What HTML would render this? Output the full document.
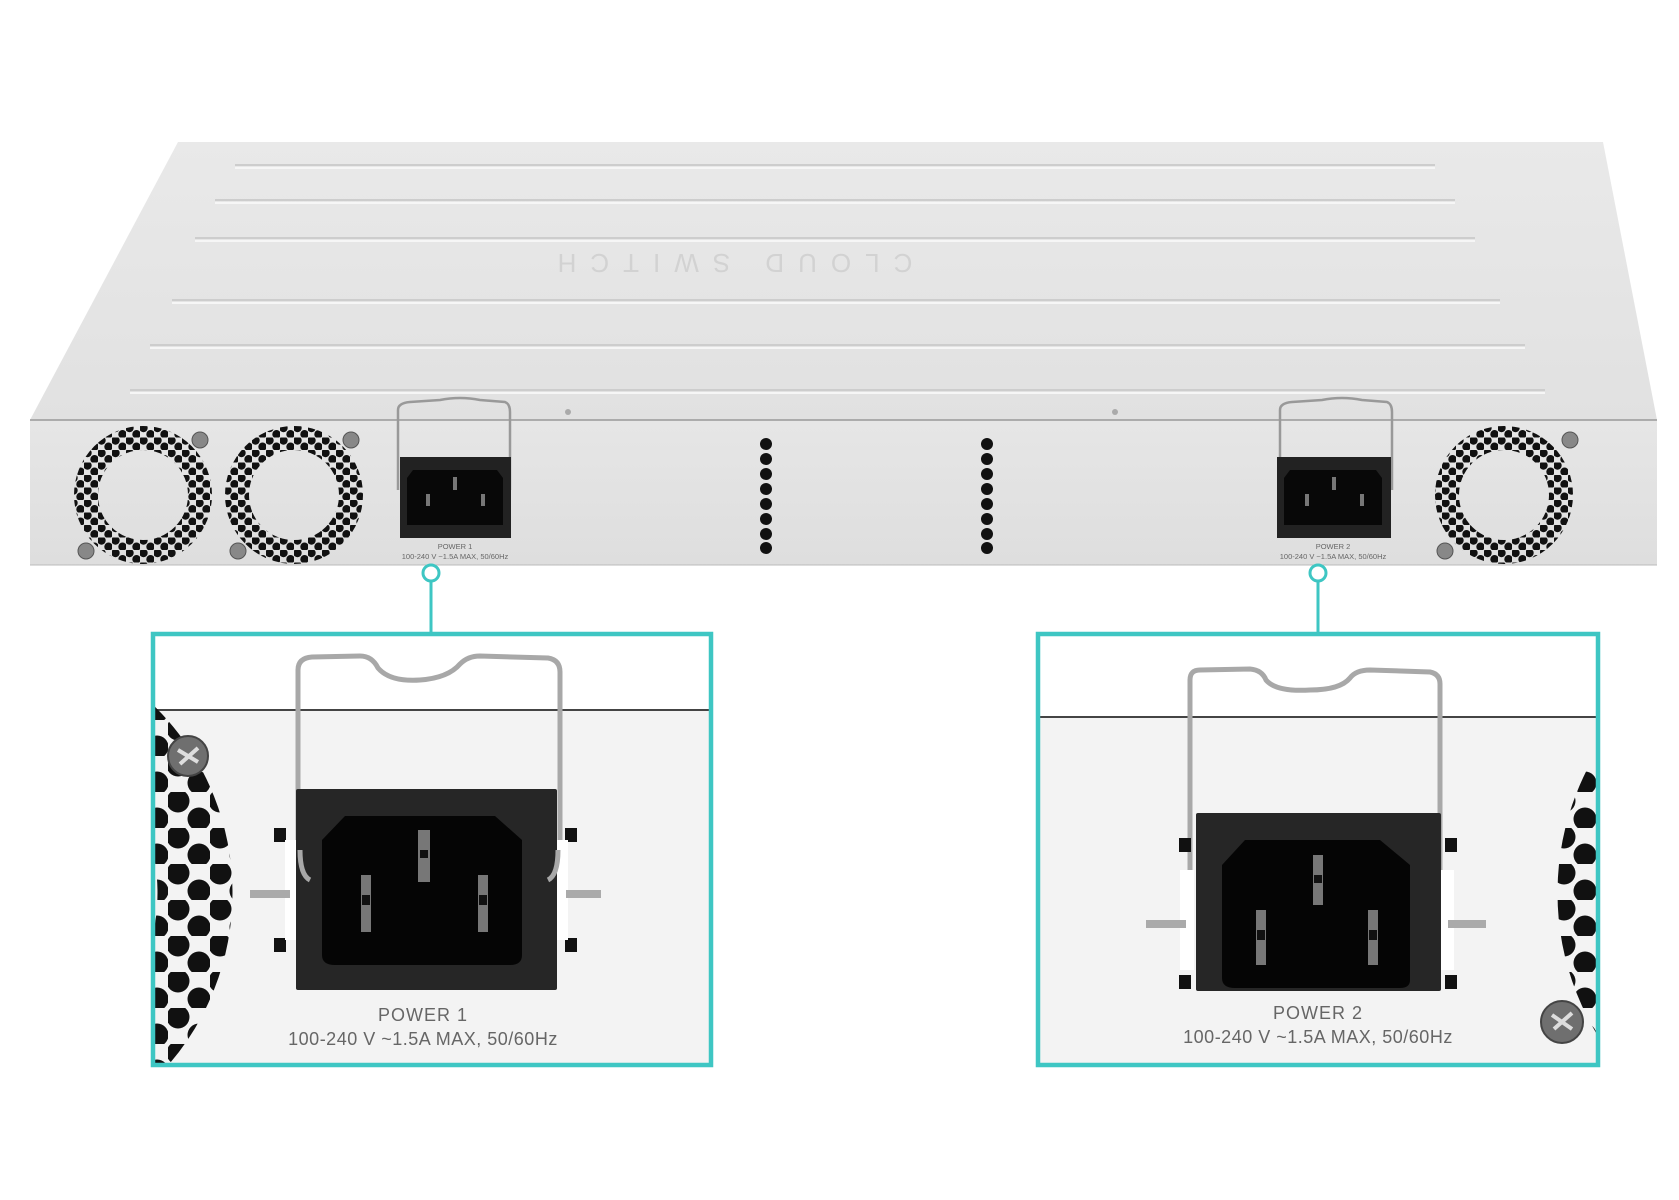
<!DOCTYPE html>
<html><head><meta charset="utf-8"><style>
html,body{margin:0;padding:0;background:#fff;}
svg{display:block;}
text{font-family:"Liberation Sans",sans-serif;}
</style></head><body>
<svg width="1679" height="1200" viewBox="0 0 1679 1200" xmlns="http://www.w3.org/2000/svg">
<defs>
<pattern id="holes" width="14" height="12.5" patternUnits="userSpaceOnUse">
<circle cx="3.5" cy="3" r="4.2" fill="#111"/><circle cx="10.5" cy="9.2" r="4.2" fill="#111"/>
</pattern>
<pattern id="holesB" width="42" height="36" patternUnits="userSpaceOnUse">
<circle cx="10" cy="9" r="11.5" fill="#111"/><circle cx="31" cy="27" r="11.5" fill="#111"/>
</pattern>
<linearGradient id="top" x1="0" y1="0" x2="0" y2="1"><stop offset="0" stop-color="#e9e9e9"/><stop offset="1" stop-color="#e1e1e1"/></linearGradient>
<linearGradient id="front" x1="0" y1="0" x2="0" y2="1"><stop offset="0" stop-color="#e6e6e6"/><stop offset="1" stop-color="#dedede"/></linearGradient>
<clipPath id="c1"><rect x="155" y="636" width="554" height="427"/></clipPath>
<clipPath id="c2"><rect x="1040" y="636" width="556" height="427"/></clipPath>
</defs>
<rect width="1679" height="1200" fill="#fff"/>
<polygon points="178,142 1603,142 1657,420 30,420" fill="url(#top)"/>
<g fill="none" stroke="#cdcdcd" stroke-width="2">
<path d="M235,165 H1435 M215,200 H1455 M195,238 H1475 M172,300 H1500 M150,345 H1525 M130,390 H1545"/>
</g>
<g fill="none" stroke="#f6f6f6" stroke-width="2">
<path d="M235,168 H1435 M215,203 H1455 M195,241 H1475 M172,303 H1500 M150,348 H1525 M130,393 H1545"/>
</g>
<text x="728" y="272" font-size="26" fill="#d2d2d2" text-anchor="middle" letter-spacing="14" transform="rotate(180 728 263)">CLOUD SWITCH</text>
<circle cx="568" cy="412" r="3" fill="#aaa"/><circle cx="1115" cy="412" r="3" fill="#aaa"/>
<rect x="30" y="420" width="1627" height="145" fill="url(#front)"/>
<line x1="30" y1="420" x2="1657" y2="420" stroke="#999" stroke-width="1.5"/>
<line x1="30" y1="565" x2="1657" y2="565" stroke="#bbb" stroke-width="1"/>
<g>
<circle cx="143" cy="495" r="57" fill="none" stroke="url(#holes)" stroke-width="24"/>
<circle cx="294" cy="495" r="57" fill="none" stroke="url(#holes)" stroke-width="24"/>
<circle cx="1504" cy="495" r="57" fill="none" stroke="url(#holes)" stroke-width="24"/>
</g>
<g fill="#888" stroke="#555" stroke-width="1">
<circle cx="200" cy="440" r="8"/><circle cx="86" cy="551" r="8"/><circle cx="351" cy="440" r="8"/><circle cx="238" cy="551" r="8"/><circle cx="1570" cy="440" r="8"/><circle cx="1445" cy="551" r="8"/>
</g>
<g fill="#111">
<circle cx="766" cy="444" r="6"/><circle cx="766" cy="459" r="6"/><circle cx="766" cy="474" r="6"/><circle cx="766" cy="489" r="6"/><circle cx="766" cy="504" r="6"/><circle cx="766" cy="519" r="6"/><circle cx="766" cy="534" r="6"/><circle cx="766" cy="548" r="6"/>
<circle cx="987" cy="444" r="6"/><circle cx="987" cy="459" r="6"/><circle cx="987" cy="474" r="6"/><circle cx="987" cy="489" r="6"/><circle cx="987" cy="504" r="6"/><circle cx="987" cy="519" r="6"/><circle cx="987" cy="534" r="6"/><circle cx="987" cy="548" r="6"/>
</g>
<g>
<path d="M398,490 V410 Q398,403 410,402 L440,400 Q460,396 480,400 L505,402 Q510,404 510,412 V490" fill="none" stroke="#999" stroke-width="2.5"/>
<rect x="400" y="457" width="111" height="81" fill="#222"/>
<path d="M413,470 H497 L503,478 V525 H407 V478 Z" fill="#080808"/>
<rect x="453" y="477" width="4" height="13" fill="#777"/><rect x="426" y="494" width="4" height="12" fill="#777"/><rect x="481" y="494" width="4" height="12" fill="#777"/>
<text x="455" y="549" font-size="7.5" fill="#666" text-anchor="middle">POWER 1</text>
<text x="455" y="559" font-size="7.5" fill="#666" text-anchor="middle">100-240 V ~1.5A MAX, 50/60Hz</text>
</g>
<g>
<path d="M1280,490 V410 Q1280,403 1292,402 L1322,400 Q1342,396 1362,400 L1387,402 Q1392,404 1392,412 V490" fill="none" stroke="#999" stroke-width="2.5"/>
<rect x="1277" y="457" width="114" height="81" fill="#222"/>
<path d="M1290,470 H1376 L1382,478 V525 H1284 V478 Z" fill="#080808"/>
<rect x="1332" y="477" width="4" height="13" fill="#777"/><rect x="1305" y="494" width="4" height="12" fill="#777"/><rect x="1360" y="494" width="4" height="12" fill="#777"/>
<text x="1333" y="549" font-size="7.5" fill="#666" text-anchor="middle">POWER 2</text>
<text x="1333" y="559" font-size="7.5" fill="#666" text-anchor="middle">100-240 V ~1.5A MAX, 50/60Hz</text>
</g>
<g stroke="#3ec6c3" stroke-width="3" fill="#fff">
<line x1="431" y1="581" x2="431" y2="632"/><circle cx="431" cy="573" r="8"/>
<line x1="1318" y1="581" x2="1318" y2="632"/><circle cx="1318" cy="573" r="8"/>
</g>
<g clip-path="url(#c1)">
<rect x="155" y="636" width="554" height="427" fill="#fff"/>
<rect x="155" y="710" width="554" height="353" fill="#f3f3f3"/>
<line x1="155" y1="710" x2="709" y2="710" stroke="#444" stroke-width="2"/>
<circle cx="-30" cy="893" r="225" fill="none" stroke="url(#holesB)" stroke-width="75"/>
<circle cx="188" cy="756" r="20" fill="#6f6f6f" stroke="#444" stroke-width="2"/>
<path d="M178,750 l20,12 M198,748 l-18,16" stroke="#ddd" stroke-width="4"/>
<path d="M298,840 V670 Q298,658 312,657 L360,656 Q372,656 378,668 Q390,682 420,680 Q448,678 460,664 Q468,656 480,656 L548,658 Q560,660 560,672 V840" fill="none" stroke="#a8a8a8" stroke-width="5"/>
<rect x="274" y="828" width="12" height="14" fill="#111"/><rect x="274" y="938" width="12" height="14" fill="#111"/>
<rect x="565" y="828" width="12" height="14" fill="#111"/><rect x="565" y="938" width="12" height="14" fill="#111"/>
<rect x="285" y="840" width="12" height="100" fill="#fff"/><rect x="556" y="840" width="12" height="100" fill="#fff"/>
<rect x="250" y="890" width="40" height="8" fill="#aaa"/><rect x="566" y="890" width="35" height="8" fill="#aaa"/>
<rect x="296" y="789" width="261" height="201" fill="#262626" rx="2"/>
<path d="M345,816 H495 L522,840 V955 Q522,965 510,965 H335 Q322,965 322,955 V840 Z" fill="#050505"/>
<rect x="418" y="830" width="12" height="52" fill="#777"/><rect x="420" y="850" width="8" height="8" fill="#111"/>
<rect x="361" y="875" width="10" height="57" fill="#777"/><rect x="362" y="895" width="8" height="10" fill="#111"/>
<rect x="478" y="875" width="10" height="57" fill="#777"/><rect x="479" y="895" width="8" height="10" fill="#111"/>
<path d="M300,850 Q300,875 310,880 M558,850 Q558,875 548,880" stroke="#a8a8a8" stroke-width="5" fill="none"/>
<text x="423" y="1021" font-size="18" fill="#666" text-anchor="middle" letter-spacing="1">POWER 1</text>
<text x="423" y="1045" font-size="18" fill="#666" text-anchor="middle" letter-spacing="0.5">100-240 V ~1.5A MAX, 50/60Hz</text>
</g>
<rect x="153" y="634" width="558" height="431" fill="none" stroke="#3ec6c3" stroke-width="4.5"/>
<g clip-path="url(#c2)">
<rect x="1040" y="636" width="556" height="427" fill="#fff"/>
<rect x="1040" y="717" width="556" height="346" fill="#f3f3f3"/>
<line x1="1040" y1="717" x2="1596" y2="717" stroke="#444" stroke-width="2"/>
<circle cx="1830" cy="893" r="235" fill="none" stroke="url(#holesB)" stroke-width="75"/>
<circle cx="1562" cy="1022" r="21" fill="#6f6f6f" stroke="#444" stroke-width="2"/>
<path d="M1552,1015 l20,14 M1572,1013 l-18,16" stroke="#ddd" stroke-width="4"/>
<path d="M1190,905 V680 Q1190,670 1200,670 L1250,669 Q1262,670 1266,680 Q1276,692 1310,690 Q1340,690 1350,678 Q1356,670 1370,670 L1430,672 Q1440,674 1440,684 V905" fill="none" stroke="#a8a8a8" stroke-width="5"/>
<rect x="1179" y="838" width="12" height="14" fill="#111"/><rect x="1179" y="975" width="12" height="14" fill="#111"/>
<rect x="1445" y="838" width="12" height="14" fill="#111"/><rect x="1445" y="975" width="12" height="14" fill="#111"/>
<rect x="1180" y="870" width="14" height="100" fill="#fff"/><rect x="1440" y="870" width="14" height="100" fill="#fff"/>
<rect x="1146" y="920" width="40" height="8" fill="#aaa"/><rect x="1448" y="920" width="38" height="8" fill="#aaa"/>
<rect x="1196" y="813" width="245" height="178" fill="#262626" rx="2"/>
<path d="M1245,840 H1380 L1410,865 V980 Q1410,988 1400,988 H1235 Q1222,988 1222,978 V865 Z" fill="#050505"/>
<rect x="1313" y="855" width="10" height="50" fill="#777"/><rect x="1314" y="875" width="8" height="8" fill="#111"/>
<rect x="1256" y="910" width="10" height="55" fill="#777"/><rect x="1257" y="930" width="8" height="10" fill="#111"/>
<rect x="1368" y="910" width="10" height="55" fill="#777"/><rect x="1369" y="930" width="8" height="10" fill="#111"/>
<text x="1318" y="1019" font-size="18" fill="#666" text-anchor="middle" letter-spacing="1">POWER 2</text>
<text x="1318" y="1043" font-size="18" fill="#666" text-anchor="middle" letter-spacing="0.5">100-240 V ~1.5A MAX, 50/60Hz</text>
</g>
<rect x="1038" y="634" width="560" height="431" fill="none" stroke="#3ec6c3" stroke-width="4.5"/>
</svg>
</body></html>
